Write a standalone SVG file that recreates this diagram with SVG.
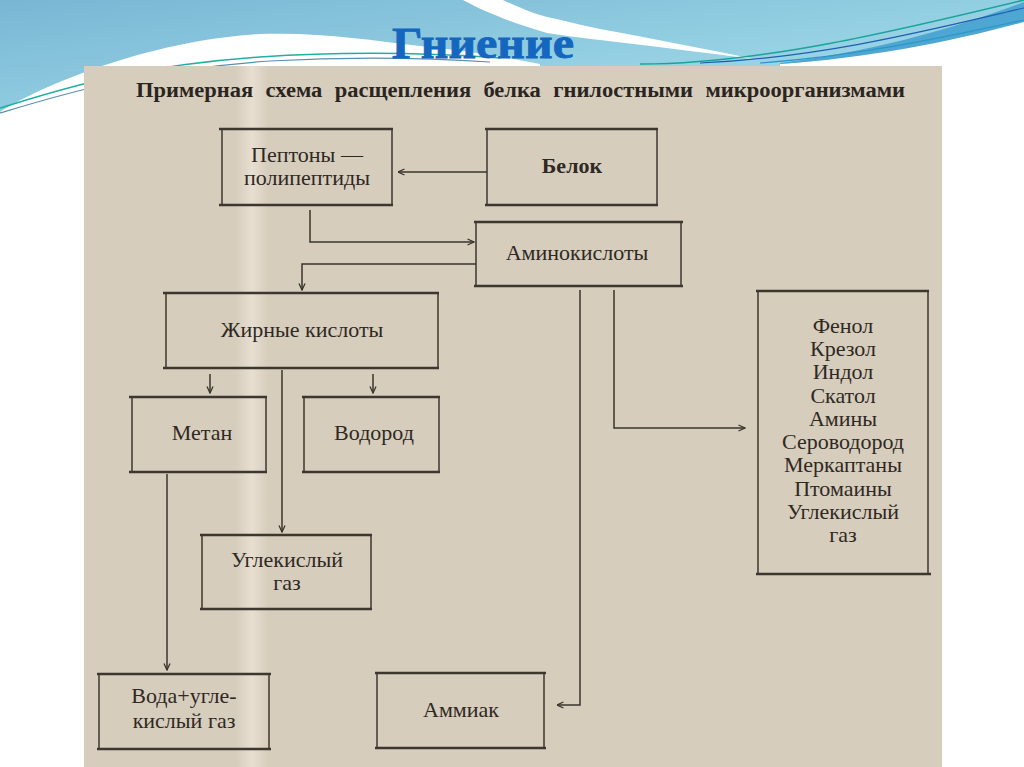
<svg xmlns="http://www.w3.org/2000/svg" width="1024" height="767" viewBox="0 0 1024 767">
  <defs>
    <linearGradient id="sky" x1="0" y1="0" x2="1" y2="1">
      <stop offset="0" stop-color="#78b6d4"/>
      <stop offset="0.5" stop-color="#93cfe2"/>
      <stop offset="1" stop-color="#a9e0ee"/>
    </linearGradient>
    <linearGradient id="fold" x1="0" y1="0" x2="1" y2="0">
      <stop offset="0" stop-color="#ebe3d6" stop-opacity="0"/>
      <stop offset="0.5" stop-color="#ebe3d6" stop-opacity="0.8"/>
      <stop offset="1" stop-color="#ebe3d6" stop-opacity="0"/>
    </linearGradient>
    <marker id="arr" viewBox="0 0 8 8" refX="7.5" refY="4" markerWidth="8" markerHeight="8" markerUnits="userSpaceOnUse" orient="auto">
      <path d="M1,1 L7.5,4 L1,7" fill="none" stroke="#3a342c" stroke-width="1.3"/>
    </marker>
    <style>
      .box rect { fill: none; stroke: #3d372f; stroke-width: 1.5; }
      .box line { stroke: #3d372f; stroke-width: 2.4; }
      .lbl { font-family: "Liberation Serif", "DejaVu Serif", serif; font-size: 22px; fill: #2e2923; text-anchor: middle; }
      .bold { font-weight: bold; }
      .conn { fill: none; stroke: #3a342c; stroke-width: 1.5; }
    </style>
  </defs>

  <!-- background decoration -->
  <rect x="0" y="0" width="1024" height="767" fill="#ffffff"/>
  <rect x="0" y="0" width="1024" height="130" fill="url(#sky)"/>
  <path d="M0,112 C40,86 150,40 260,34 C320,32 370,40 420,46 C460,50 500,56 540,64 L540,140 L0,140 Z" fill="#ffffff"/>
  <path d="M503,0 C520,8 535,14 547,17 C570,22 590,27 600,29 C650,38 710,50 760,60 C700,52 650,46 600,40 C575,37 560,35 547,33 C510,22 485,12 463,0 Z" fill="#ffffff"/>
  <path d="M780,64 C870,58 950,38 1024,16 L1024,140 L780,140 Z" fill="#ffffff"/>
  <path d="M780,63 C870,52 950,30 1024,2 L1024,22 C950,42 870,58 780,64 Z" fill="#4ea6d2"/>
  <path d="M640,64 C760,64 900,30 1024,0" fill="none" stroke="#1aa39a" stroke-width="1.5"/>
  <path d="M700,63 C820,58 930,30 1024,8" fill="none" stroke="#1e5fb0" stroke-width="1.2"/>
  <path d="M760,63 C860,56 950,36 1024,20" fill="none" stroke="#2a98c8" stroke-width="1.2"/>
  <path d="M0,108 C60,90 130,66 260,57 C350,51 430,53 500,58" fill="none" stroke="#1fb0a0" stroke-width="1.5"/>
  <path d="M0,113 C60,95 140,70 270,61 C360,56 430,58 490,62" fill="none" stroke="#5a8fb0" stroke-width="1.2"/>

  <!-- title -->
  <text x="483" y="58" font-family="Liberation Serif, DejaVu Serif, serif" font-size="44" font-weight="bold" fill="#1466be" stroke="#1466be" stroke-width="0.8" text-anchor="middle" textLength="182" lengthAdjust="spacingAndGlyphs">Гниение</text>

  <!-- scanned page -->
  <rect x="84" y="66" width="858" height="701" fill="#d7cdbd"/>
  <rect x="236" y="66" width="32" height="701" fill="url(#fold)"/>

  <text x="136" y="97" font-family="Liberation Serif, DejaVu Serif, serif" font-size="20" font-weight="bold" fill="#2a251f" textLength="769" lengthAdjust="spacingAndGlyphs" word-spacing="6">Примерная схема расщепления белка гнилостными микроорганизмами</text>

  <!-- connectors -->
  <g id="connectors">
    <line class="conn" x1="487" y1="172" x2="398" y2="172" marker-end="url(#arr)"/>
    <polyline class="conn" points="310,210 310,242 474,242" marker-end="url(#arr)"/>
    <polyline class="conn" points="476,264 302,264 302,290" marker-end="url(#arr)"/>
    <line class="conn" x1="210" y1="374" x2="210" y2="393" marker-end="url(#arr)"/>
    <line class="conn" x1="373" y1="374" x2="373" y2="393" marker-end="url(#arr)"/>
    <line class="conn" x1="282" y1="370" x2="282" y2="532" marker-end="url(#arr)"/>
    <line class="conn" x1="167" y1="474" x2="167" y2="670" marker-end="url(#arr)"/>
    <polyline class="conn" points="580,290 580,705 557,705" marker-end="url(#arr)"/>
    <polyline class="conn" points="614,290 614,428 745,428" marker-end="url(#arr)"/>
  </g>

  <!-- nodes -->
  <g id="peptones" class="box">
    <rect x="222" y="129" width="170" height="76"/>
    <line x1="219" y1="129" x2="393" y2="129"/><line x1="219" y1="205" x2="393" y2="205"/>
    <text class="lbl" x="307" y="162">Пептоны —</text>
    <text class="lbl" x="307" y="185">полипептиды</text>
  </g>
  <g id="belok" class="box">
    <rect x="487" y="129" width="170" height="76"/>
    <line x1="485" y1="129" x2="658" y2="129"/><line x1="485" y1="205" x2="658" y2="205"/>
    <text class="lbl bold" x="572" y="173">Белок</text>
  </g>
  <g id="aminoacids" class="box">
    <rect x="476" y="222" width="205" height="64"/>
    <line x1="474" y1="222" x2="683" y2="222"/><line x1="474" y1="286" x2="683" y2="286"/>
    <text class="lbl" x="577" y="260">Аминокислоты</text>
  </g>
  <g id="fatty" class="box">
    <rect x="166" y="293" width="272" height="75"/>
    <line x1="163" y1="293" x2="439" y2="293"/><line x1="163" y1="368" x2="439" y2="368"/>
    <text class="lbl" x="302" y="337">Жирные кислоты</text>
  </g>
  <g id="methane" class="box">
    <rect x="132" y="397" width="134" height="75"/>
    <line x1="129" y1="397" x2="267" y2="397"/><line x1="129" y1="472" x2="267" y2="472"/>
    <text class="lbl" x="202" y="440">Метан</text>
  </g>
  <g id="hydrogen" class="box">
    <rect x="304" y="397" width="135" height="75"/>
    <line x1="302" y1="397" x2="440" y2="397"/><line x1="302" y1="472" x2="440" y2="472"/>
    <text class="lbl" x="374" y="440">Водород</text>
  </g>
  <g id="co2" class="box">
    <rect x="202" y="535" width="169" height="74"/>
    <line x1="200" y1="535" x2="372" y2="535"/><line x1="200" y1="609" x2="372" y2="609"/>
    <text class="lbl" x="287" y="567">Углекислый</text>
    <text class="lbl" x="287" y="590">газ</text>
  </g>
  <g id="water" class="box">
    <rect x="99" y="674" width="170" height="75"/>
    <line x1="97" y1="674" x2="271" y2="674"/><line x1="97" y1="749" x2="271" y2="749"/>
    <text class="lbl" x="184" y="703">Вода+угле-</text>
    <text class="lbl" x="184" y="728">кислый газ</text>
  </g>
  <g id="ammonia" class="box">
    <rect x="377" y="673" width="167" height="75"/>
    <line x1="375" y1="673" x2="546" y2="673"/><line x1="375" y1="748" x2="546" y2="748"/>
    <text class="lbl" x="461" y="717">Аммиак</text>
  </g>
  <g id="products" class="box">
    <rect x="758" y="291" width="170" height="283"/>
    <line x1="756" y1="291" x2="929" y2="291"/><line x1="756" y1="574" x2="931" y2="574"/>
    <text class="lbl" x="843" y="333">Фенол</text>
    <text class="lbl" x="843" y="356">Крезол</text>
    <text class="lbl" x="843" y="379">Индол</text>
    <text class="lbl" x="843" y="403">Скатол</text>
    <text class="lbl" x="843" y="426">Амины</text>
    <text class="lbl" x="843" y="449">Сероводород</text>
    <text class="lbl" x="843" y="472">Меркаптаны</text>
    <text class="lbl" x="843" y="496">Птомаины</text>
    <text class="lbl" x="843" y="519">Углекислый</text>
    <text class="lbl" x="843" y="542">газ</text>
  </g>
</svg>
